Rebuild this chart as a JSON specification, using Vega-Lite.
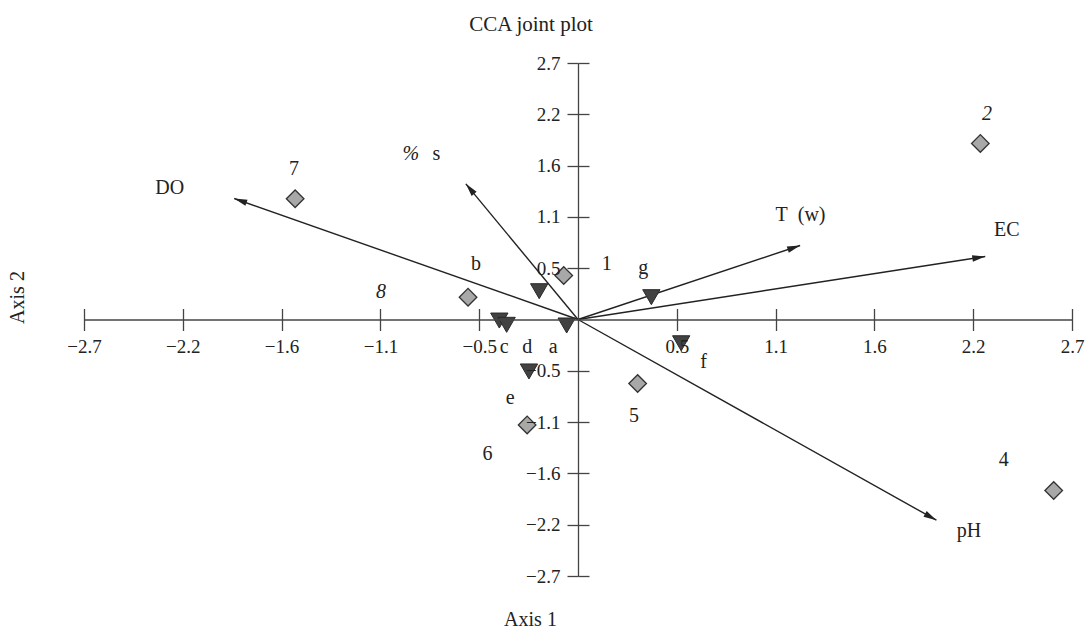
{
  "$schema": "https://vega.github.io/schema/vega-lite/v6.json",
  "width": 988,
  "height": 513,
  "autosize": {"type": "none"},
  "padding": {"left": 84, "top": 63, "right": 13, "bottom": 54},
  "background": "white",
  "config": {
    "view": {"stroke": null},
    "font": "Liberation Serif",
    "axis": {"grid": false}
  },
  "title": {
    "text": "CCA joint plot",
    "anchor": "middle",
    "dx": -47,
    "offset": 19,
    "font": "Liberation Serif",
    "fontSize": 21,
    "fontWeight": "normal",
    "color": "#222222"
  },
  "datasets": {
    "vectors": [
      {"variable": "DO", "x": -1.879, "y": 1.274},
      {"variable": "% s", "x": -0.613, "y": 1.428},
      {"variable": "T (w)", "x": 1.214, "y": 0.779},
      {"variable": "EC", "x": 2.226, "y": 0.663},
      {"variable": "pH", "x": 1.959, "y": -2.113}
    ],
    "sites": [
      {"site": "1", "x": -0.078, "y": 0.463},
      {"site": "2", "x": 2.199, "y": 1.853},
      {"site": "4", "x": 2.6, "y": -1.8},
      {"site": "5", "x": 0.326, "y": -0.674},
      {"site": "6", "x": -0.278, "y": -1.11},
      {"site": "7", "x": -1.546, "y": 1.271},
      {"site": "8", "x": -0.601, "y": 0.235}
    ],
    "species": [
      {"species": "a", "x": -0.062, "y": -0.063},
      {"species": "b", "x": -0.212, "y": 0.298},
      {"species": "c", "x": -0.43, "y": -0.011},
      {"species": "d", "x": -0.39, "y": -0.056},
      {"species": "e", "x": -0.268, "y": -0.547},
      {"species": "f", "x": 0.564, "y": -0.25},
      {"species": "g", "x": 0.401, "y": 0.235}
    ],
    "labels": [
      {"text": "DO", "x": -2.232, "y": 1.386},
      {"text": "%", "x": -0.914, "y": 1.747},
      {"text": "s", "x": -0.774, "y": 1.747},
      {"text": "T\u00a0\u00a0(w)", "x": 1.216, "y": 1.105},
      {"text": "EC", "x": 2.344, "y": 0.947},
      {"text": "pH", "x": 2.137, "y": -2.228},
      {"text": "7", "x": -1.552, "y": 1.579},
      {"text": "8", "x": -1.077, "y": 0.292},
      {"text": "1", "x": 0.157, "y": 0.579},
      {"text": "2", "x": 2.235, "y": 2.168},
      {"text": "4", "x": 2.327, "y": -1.484},
      {"text": "5", "x": 0.306, "y": -1.011},
      {"text": "6", "x": -0.495, "y": -1.421},
      {"text": "a", "x": -0.135, "y": -0.292},
      {"text": "b", "x": -0.557, "y": 0.579},
      {"text": "c", "x": -0.403, "y": -0.292},
      {"text": "d", "x": -0.277, "y": -0.292},
      {"text": "e", "x": -0.37, "y": -0.824},
      {"text": "f", "x": 0.686, "y": -0.449},
      {"text": "g", "x": 0.357, "y": 0.544}
    ]
  },
  "layer": [
    {
      "data": {"name": "vectors"},
      "mark": {"type": "rule", "color": "#222222", "strokeWidth": 1.4},
      "encoding": {
        "x": {
          "field": "x", "type": "quantitative",
          "scale": {"domain": [-2.7, 2.7], "nice": false, "zero": false},
          "axis": {
            "orient": "bottom", "offset": -256.5, "zindex": 1,
            "values": [-2.7, -2.16, -1.62, -1.08, -0.54, 0.54, 1.08, 1.62, 2.16, 2.7],
            "format": ".1f",
            "tickSize": 11, "tickWidth": 1.3, "tickColor": "#444444",
            "domainColor": "#444444", "domainWidth": 1.3,
            "labelPadding": 7, "labelFont": "Liberation Serif", "labelFontSize": 19,
            "labelColor": "#222222", "labelFlush": false, "labelOverlap": false, "labelBound": false,
            "title": "Axis 1", "titleX": 446, "titleY": 300, "titleAlign": "center",
            "titleBaseline": "middle", "titleFont": "Liberation Serif", "titleFontSize": 20,
            "titleFontWeight": "normal", "titleColor": "#222222"
          }
        },
        "y": {
          "field": "y", "type": "quantitative",
          "scale": {"domain": [-2.7, 2.7], "nice": false, "zero": false},
          "axis": {
            "orient": "left", "offset": -494, "zindex": 1,
            "values": [-2.7, -2.16, -1.62, -1.08, -0.54, 0.54, 1.08, 1.62, 2.16, 2.7],
            "format": ".1f",
            "tickSize": 11, "tickWidth": 1.3, "tickColor": "#444444",
            "domainColor": "#444444", "domainWidth": 1.3,
            "labelPadding": 7, "labelFont": "Liberation Serif", "labelFontSize": 19,
            "labelColor": "#222222", "labelFlush": false, "labelOverlap": false, "labelBound": false,
            "title": "Axis 2", "titleX": -561, "titleY": 234, "titleAngle": 270, "titleAlign": "center",
            "titleBaseline": "middle", "titleFont": "Liberation Serif", "titleFontSize": 20,
            "titleFontWeight": "normal", "titleColor": "#222222"
          }
        },
        "x2": {"datum": 0},
        "y2": {"datum": 0}
      }
    },
    {
      "data": {"name": "vectors"},
      "transform": [
        {"calculate": "atan2(datum.x * 182.96, datum.y * 95) * 180 / PI", "as": "heading"}
      ],
      "mark": {"type": "point", "shape": "M0,0L0.5,2L-0.5,2Z", "filled": true, "size": 169, "color": "#222222", "opacity": 1},
      "encoding": {
        "x": {
          "field": "x", "type": "quantitative",
          "axis": {
            "orient": "top", "offset": -256.5,
            "values": [-2.7, -2.16, -1.62, -1.08, -0.54, 0.54, 1.08, 1.62, 2.16, 2.7],
            "labels": false, "domain": false, "tickSize": 11, "tickWidth": 1.3,
            "tickColor": "#444444", "title": null
          }
        },
        "y": {
          "field": "y", "type": "quantitative",
          "axis": {
            "orient": "right", "offset": -494,
            "values": [-2.7, -2.16, -1.62, -1.08, -0.54, 0.54, 1.08, 1.62, 2.16, 2.7],
            "labels": false, "domain": false, "tickSize": 11, "tickWidth": 1.3,
            "tickColor": "#444444", "title": null
          }
        },
        "angle": {"field": "heading", "type": "quantitative", "scale": null}
      }
    },
    {
      "data": {"name": "sites"},
      "mark": {"type": "point", "shape": "diamond", "filled": true, "size": 310, "fill": "#a8a8a8", "stroke": "#333333", "strokeWidth": 1.3, "opacity": 1},
      "encoding": {
        "x": {"field": "x", "type": "quantitative", "axis": null},
        "y": {"field": "y", "type": "quantitative", "axis": null}
      }
    },
    {
      "data": {"name": "species"},
      "mark": {"type": "point", "shape": "triangle-down", "filled": true, "size": 300, "fill": "#424242", "stroke": "#2a2a2a", "strokeWidth": 1, "opacity": 1},
      "encoding": {
        "x": {"field": "x", "type": "quantitative", "axis": null},
        "y": {"field": "y", "type": "quantitative", "axis": null}
      }
    },
    {
      "data": {"name": "labels"},
      "transform": [{"filter": "datum.text != '8' && datum.text != '2' && datum.text != '%'"}],
      "mark": {"type": "text", "font": "Liberation Serif", "fontSize": 20, "color": "#222222", "align": "center", "baseline": "middle"},
      "encoding": {
        "x": {"field": "x", "type": "quantitative", "axis": null},
        "y": {"field": "y", "type": "quantitative", "axis": null},
        "text": {"field": "text"}
      }
    },
    {
      "data": {"name": "labels"},
      "transform": [{"filter": "datum.text == '8' || datum.text == '2' || datum.text == '%'"}],
      "mark": {"type": "text", "font": "Liberation Serif", "fontSize": 20, "fontStyle": "italic", "color": "#222222", "align": "center", "baseline": "middle"},
      "encoding": {
        "x": {"field": "x", "type": "quantitative", "axis": null},
        "y": {"field": "y", "type": "quantitative", "axis": null},
        "text": {"field": "text"}
      }
    }
  ],
  "resolve": {"axis": {"x": "independent", "y": "independent"}}
}
